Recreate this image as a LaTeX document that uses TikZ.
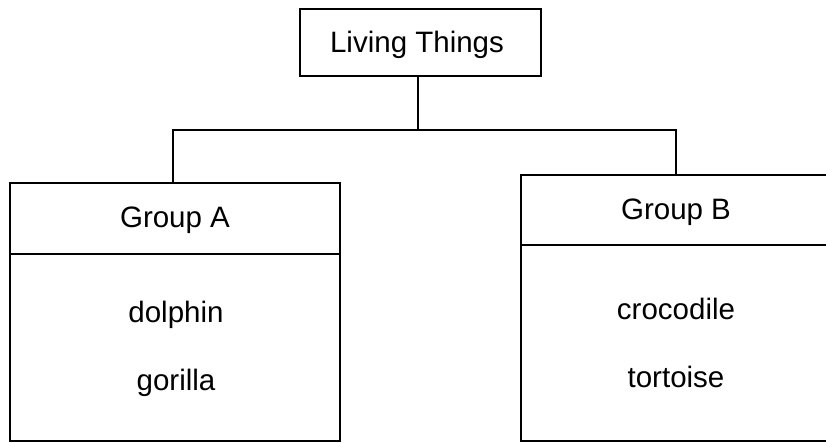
\documentclass[tikz,border=0pt]{standalone}
\usepackage{fontspec}
\setmainfont{Liberation Sans}
\begin{document}
\begin{tikzpicture}[x=1pt,y=-1pt,
  box/.style={draw, line width=2.4pt, rectangle, inner sep=0pt},
  lbl/.style={anchor=base, inner sep=0pt, font=\fontsize{29.5}{33}\selectfont},
  conn/.style={line width=2.4pt}]
\useasboundingbox (0,0) rectangle (826,443);
\clip (0,0) rectangle (826,443);
\fill[white] (0,0) rectangle (826,443);
% top box
\node[box, minimum width=241pt, minimum height=67pt] (top) at (420.5,42.5) {};
\node[lbl] (toptxt) at (417,53) {Living Things};
% Group A
\node[box, minimum width=330pt, minimum height=71pt] (ahead) at (175,218.5) {};
\node[box, minimum width=330pt, minimum height=187pt] (abody) at (175,347.5) {};
\node[lbl] (atxt) at (175,228) {Group A};
\node[lbl] (a1) at (176,322) {dolphin};
\node[lbl] (a2) at (176,390) {gorilla};
% Group B
\node[box, minimum width=319pt, minimum height=70pt] (bhead) at (680.5,210) {};
\node[box, minimum width=319pt, minimum height=196pt] (bbody) at (680.5,343) {};
\node[lbl] (btxt) at (676,220) {Group B};
\node[lbl] (b1) at (676,319) {crocodile};
\node[lbl] (b2) at (676,387) {tortoise};
% connectors
\coordinate (j) at (418,130);
\coordinate (jl) at (173,130);
\coordinate (jr) at (676,130);
\draw[conn] (top.south -| j) -- (j);
\draw[conn] (ahead.north -| jl) -- (jl) -- (jr) -- (bhead.north -| jr);
\end{tikzpicture}
\end{document}
